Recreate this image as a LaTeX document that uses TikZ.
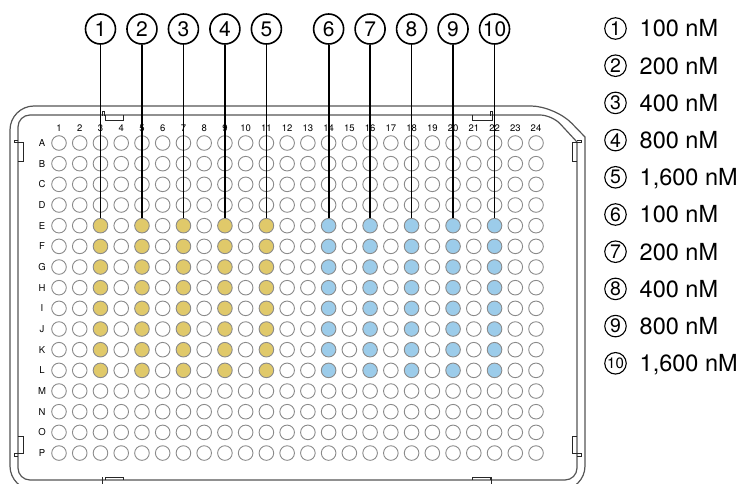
\documentclass[tikz,border=0pt]{standalone}
\usepackage{fontspec}
\setmainfont{TeX Gyre Heros}
\definecolor{wellY}{HTML}{E0C96A}
\definecolor{wellB}{HTML}{9CCCEA}
\definecolor{wellLine}{HTML}{8A8A8A}
\definecolor{plateLine}{HTML}{555555}
\tikzset{
  well/.style={circle,draw=wellLine,line width=0.9pt,minimum size=14.6pt,inner sep=0pt},
  platepath/.style={draw=plateLine,line width=1.2pt},
  tabpath/.style={draw=black!85,line width=0.9pt},
  collab/.style={font=\fontsize{9.5}{10}\selectfont,inner sep=0pt},
  numc/.style={circle,draw=black,line width=1.6pt,minimum size=30pt,inner sep=0pt,font=\fontsize{21}{22}\selectfont},
  lead/.style={draw=black,line width=1.8pt},
  legc/.style={circle,draw=black,line width=1.1pt,minimum size=21.5pt,inner sep=0pt,font=\fontsize{19.5}{20}\selectfont},
  legt/.style={anchor=base west,inner sep=0pt,font=\fontsize{23.5}{25}\selectfont}
}
\begin{document}
\begin{tikzpicture}[x=1pt,y=-1pt]
\useasboundingbox (0,0) rectangle (740,484);
\clip (0,0) rectangle (740,484);
% plate outline
\path[platepath] (10,300) [rounded corners=24] -- (10,106) -- (555,106) [sharp corners] -- (585,137) [rounded corners=24] -- (585,490) -- (10,490) -- (10,300);
\path[platepath] (300,480) [rounded corners=12] -- (18,480) -- (18,115) -- (552,115) [sharp corners] -- (577,142) [rounded corners=12] -- (577,480) -- (300,480);
% tabs
\path[tabpath] (105,115) -- (105,120) -- (123,120) -- (123,115);
\path[tabpath] (102.5,116) -- (102.5,111) -- (104.5,111) -- (104.5,116);
\path[tabpath] (472,115) -- (472,120) -- (490,120);
\path[tabpath] (490,120) -- (492,120) -- (492,111) -- (490,111) -- (490,116);
\path[tabpath] (18,142) -- (23,142) -- (23,161) -- (18,161);
\path[tabpath] (18,140) -- (14,140) -- (14,142) -- (18,142);
\path[tabpath] (18,436) -- (23,436) -- (23,453) -- (18,453);
\path[tabpath] (18,453) -- (14,453) -- (14,456) -- (18,456);
\path[tabpath] (577,142) -- (572,142) -- (572,161) -- (577,161);
\path[tabpath] (577,140) -- (581,140) -- (581,142) -- (577,142);
\path[tabpath] (577,436) -- (572,436) -- (572,453) -- (577,453);
\path[tabpath] (577,453) -- (581,453) -- (581,456) -- (577,456);
\path[tabpath] (105,480) -- (105,477) -- (123,477) -- (123,480);
\path[tabpath] (102.5,477) -- (102.5,484);
\path[tabpath] (472,480) -- (472,477) -- (490,477) -- (490,480);
\path[tabpath] (491.5,477) -- (491.5,484);
% column labels
\foreach \c in {1,...,24}{
  \node[collab] (col\c) at ({59+(\c-1)*20.74},128) {\c};
}
% row labels
\foreach \l [count=\r] in {A,B,C,D,E,F,G,H,I,J,K,L,M,N,O,P}{
  \node[collab] (row\r) at (42,{143+(\r-1)*20.67}) {\l};
}
% wells
\foreach \c in {1,...,24}{
  \foreach \r in {1,...,16}{
    \def\wf{white}
    \ifnum\r>4 \ifnum\r<13
      \ifodd\c \ifnum\c>2 \ifnum\c<12 \def\wf{wellY}\fi\fi\fi
      \ifodd\c\else \ifnum\c>13 \ifnum\c<23 \def\wf{wellB}\fi\fi\fi
    \fi\fi
    \node[well,fill=\wf] (w\r-\c) at ({59+(\c-1)*20.74},{143+(\r-1)*20.67}) {};
  }
}
% numbered markers and leads
\foreach \n/\c in {1/3,2/5,3/7,4/9,5/11,6/14,7/16,8/18,9/20,10/22}{
  \node[numc] (n\n) at ({59+(\c-1)*20.74},29) {\n};
  \draw[lead] (n\n) -- (w5-\c.north);
}
% legend
\foreach \n/\t [count=\i] in {1/100 nM,2/200 nM,3/400 nM,4/800 nM,5/{1,600 nM},6/100 nM,7/200 nM,8/400 nM,9/800 nM,10/{1,600 nM}}{
  \node[legc] (l\n) at (615.5,{28.5+(\i-1)*37.2}) {\ifnum\n=10 \fontsize{15}{15}\selectfont\fi\n};
  \node[legt] (lt\n) at (639.5,{37+(\i-1)*37.2}) {\t};
}
\end{tikzpicture}
\end{document}
